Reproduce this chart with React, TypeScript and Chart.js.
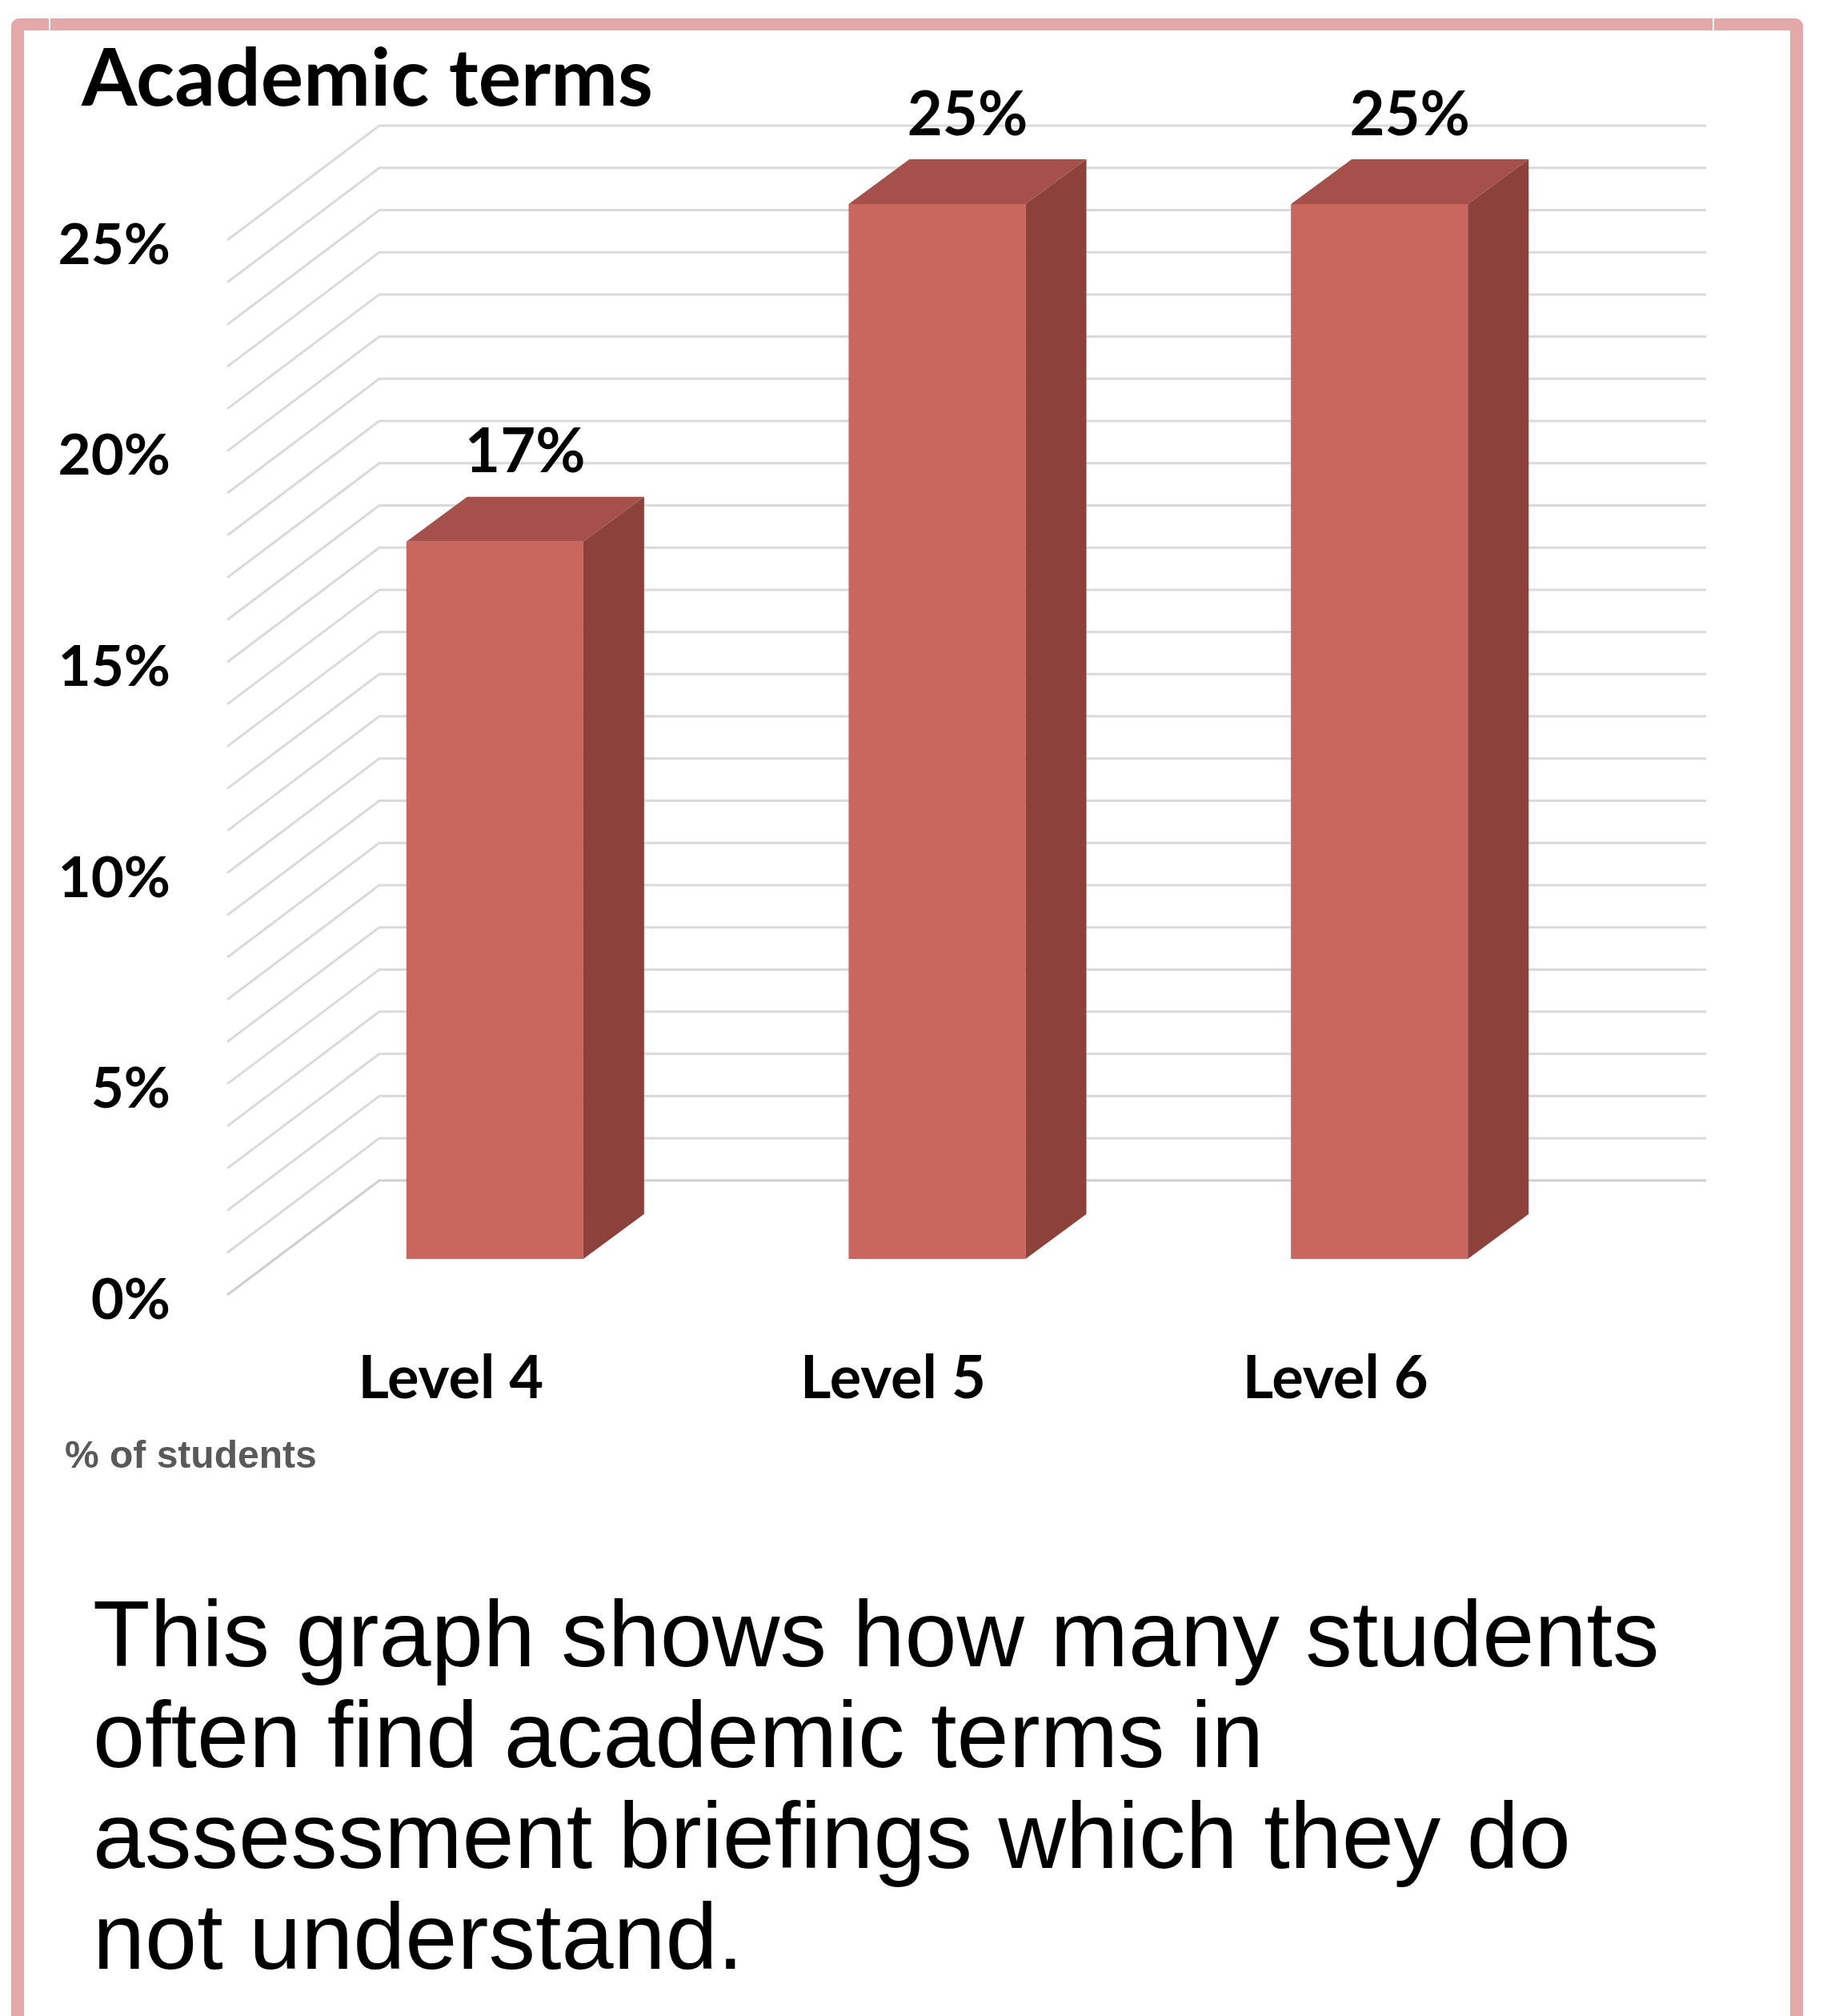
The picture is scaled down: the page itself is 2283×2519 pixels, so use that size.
import React, { useEffect, useRef } from "react";
import { Chart, registerables } from "chart.js";

Chart.register(...registerables);

const categories = ["Level 4", "Level 5", "Level 6"];
const percentValues = [17, 25, 25];
const yMin = 0;
const yMax = 25;
const yStep = 1;
const labelEvery = 5;

const FRONT_COLOR = "#C9665D";
const TOP_COLOR = "#A5504A";
const SIDE_COLOR = "#8C413B";
const GRID_COLOR = "#DADADA";
const BORDER_COLOR = "#E3A8A8";

// 3D geometry offsets relative to the plane of the bars' front faces
const BAR_DX = 76;
const BAR_DY = -56;
const WALL_DX = 132;
const WALL_DY = -98;
const FRONT_DX = -58;
const FRONT_DY = 45;

const depthPlugin = {
  id: "depth3d",
  beforeDatasetsDraw(chart: any) {
    const { ctx, chartArea, scales } = chart;
    const ys = scales.y;
    ctx.save();
    ctx.lineWidth = 3;
    ctx.lineJoin = "miter";
    ys.ticks.forEach((t: any) => {
      const py = ys.getPixelForValue(t.value);
      ctx.strokeStyle = t.value === 0 ? "#CFCFCF" : GRID_COLOR;
      ctx.beginPath();
      ctx.moveTo(chartArea.left + FRONT_DX, py + FRONT_DY);
      ctx.lineTo(chartArea.left + WALL_DX, py + WALL_DY);
      ctx.lineTo(chartArea.right + WALL_DX, py + WALL_DY);
      ctx.stroke();
    });
    ctx.restore();
  },
  afterDatasetsDraw(chart: any) {
    const { ctx } = chart;
    const meta = chart.getDatasetMeta(0);
    const data = chart.data.datasets[0].data;
    ctx.save();
    meta.data.forEach((bar: any, i: number) => {
      const { x, y, base, width } = bar.getProps(["x", "y", "base", "width"], true);
      const l = x - width / 2;
      const r = x + width / 2;
      ctx.fillStyle = TOP_COLOR;
      ctx.beginPath();
      ctx.moveTo(l, y);
      ctx.lineTo(l + BAR_DX, y + BAR_DY);
      ctx.lineTo(r + BAR_DX, y + BAR_DY);
      ctx.lineTo(r, y);
      ctx.closePath();
      ctx.fill();
      ctx.fillStyle = SIDE_COLOR;
      ctx.beginPath();
      ctx.moveTo(r, y);
      ctx.lineTo(r + BAR_DX, y + BAR_DY);
      ctx.lineTo(r + BAR_DX, base + BAR_DY);
      ctx.lineTo(r, base);
      ctx.closePath();
      ctx.fill();
      ctx.fillStyle = "#000000";
      ctx.font = "bold 76px Lato";
      ctx.textAlign = "center";
      ctx.textBaseline = "middle";
      ctx.fillText(data[i] + "%", x + BAR_DX / 2, y + BAR_DY - 55);
    });
    ctx.restore();
  },
};

export default function App() {
  const ref = useRef<HTMLCanvasElement | null>(null);

  useEffect(() => {
    if (!ref.current) return;
    const chart = new Chart(ref.current, {
      type: "bar",
      data: {
        labels: categories,
        datasets: [
          {
            data: percentValues,
            backgroundColor: FRONT_COLOR,
            borderWidth: 0,
            barPercentage: 0.4,
            categoryPercentage: 1,
          },
        ],
      },
      options: {
        responsive: false,
        animation: false,
        devicePixelRatio: 1,
        layout: { padding: { top: 255, right: 283, left: 0, bottom: 0 } },
        plugins: {
          legend: { display: false },
          title: { display: false },
          tooltip: { enabled: false },
        },
        scales: {
          x: {
            grid: { display: false, drawTicks: false },
            border: { display: false },
            ticks: {
              color: "#000000",
              font: { family: "Lato", weight: "bold", size: 74 },
              labelOffset: -55,
              padding: 106,
              maxRotation: 0,
            },
            afterFit: (s: any) => {
              s.height = 227;
            },
          },
          y: {
            min: yMin,
            max: yMax,
            grid: { display: false, drawTicks: false },
            border: { display: false },
            ticks: {
              stepSize: yStep,
              autoSkip: false,
              color: "#000000",
              font: { family: "Lato", weight: "bold", size: 71 },
              padding: 129,
              labelOffset: 52,
              callback: (v: any) => (Number(v) % labelEvery === 0 ? v + "%" : ""),
            },
            afterFit: (s: any) => {
              s.width = 342;
            },
          },
        },
      },
      plugins: [depthPlugin],
    });
    return () => chart.destroy();
  }, []);

  return (
    <div
      style={{
        position: "absolute",
        left: 0,
        top: 0,
        width: 2283,
        height: 2519,
        overflow: "hidden",
        background: "#ffffff",
      }}
    >
      <div
        style={{
          position: "absolute",
          left: 14,
          top: 23,
          width: 2239,
          height: 2700,
          boxSizing: "border-box",
          borderLeft: `16px solid ${BORDER_COLOR}`,
          borderRight: `16px solid ${BORDER_COLOR}`,
          borderTop: `15px solid ${BORDER_COLOR}`,
          borderRadius: "10px 10px 0 0",
        }}
      />
      <div style={{ position: "absolute", left: 61, top: 23, width: 2, height: 15, background: "#fff" }} />
      <div style={{ position: "absolute", left: 2140, top: 23, width: 2, height: 15, background: "#fff" }} />
      <canvas
        ref={ref}
        width={2283}
        height={1800}
        style={{ position: "absolute", left: 0, top: 0, width: 2283, height: 1800 }}
      />
      <div
        style={{
          position: "absolute",
          left: 102,
          top: 43,
          fontFamily: "Lato",
          fontWeight: 700,
          fontSize: 100,
          lineHeight: "100px",
          color: "#000",
          whiteSpace: "nowrap",
        }}
      >
        Academic terms
      </div>
      <div
        style={{
          position: "absolute",
          left: 81,
          top: 1794,
          fontFamily: "'Liberation Sans', Arial, sans-serif",
          fontWeight: 700,
          fontSize: 48,
          lineHeight: "48px",
          color: "#595959",
          whiteSpace: "nowrap",
        }}
      >
        % of students
      </div>
      <div
        style={{
          position: "absolute",
          left: 116,
          top: 1979,
          fontFamily: "'Liberation Sans', Arial, sans-serif",
          fontSize: 117,
          lineHeight: "126px",
          color: "#000",
          whiteSpace: "nowrap",
        }}
      >
        This graph shows how many students
        <br />
        often find academic terms in
        <br />
        assessment briefings which they do
        <br />
        not understand.
      </div>
    </div>
  );
}
